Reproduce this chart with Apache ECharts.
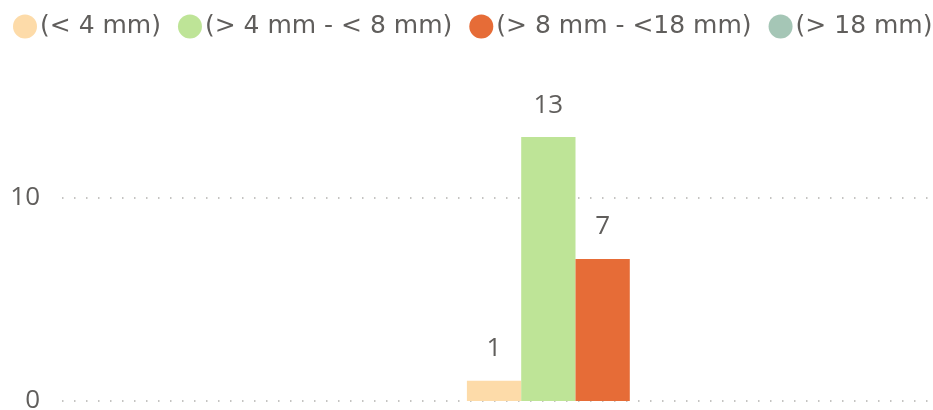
<!DOCTYPE html>
<html>
<head>
<meta charset="utf-8">
<script src="https://cdn.jsdelivr.net/npm/echarts@6/dist/echarts.min.js"></script>
<style>html,body{margin:0;padding:0;background:#fff}#c{width:933px;height:410px}</style>
</head>
<body>
<div id="c"></div>
<script>
const categories = ['Total'];
const seriesNames = ['(< 4 mm)', '(> 4 mm - < 8 mm)', '(> 8 mm - <18 mm)', '(> 18 mm)'];
const valuesLt4 = [1];
const values4to8 = [13];
const values8to18 = [7];
const valuesGt18 = [null];
const colors = ['#FDDBA9', '#BEE497', '#E66C37', '#A5C6B6'];
const yTicks = [0, 10, 20];

const FONT = '"Open Sans", "Noto Sans", sans-serif';
const LEGEND_FONT = '"DejaVu Sans", sans-serif';
const allValues = [valuesLt4, values4to8, values8to18, valuesGt18];

const chart = echarts.init(document.getElementById('c'));
chart.setOption({
  animation: false,
  color: colors,
  legend: {
    left: 8, top: 9, width: 1000,
    icon: 'circle', itemWidth: 24, itemHeight: 24, itemGap: 17,
    textStyle: { fontFamily: LEGEND_FONT, fontSize: 25, color: '#605E5C', padding: [0, 0, 0, -2] },
    data: seriesNames
  },
  grid: { left: 62, right: -156, top: -5, bottom: 9, outerBoundsMode: 'none', containLabel: false },
  xAxis: {
    type: 'category', data: categories,
    axisLine: { show: false }, axisTick: { show: false }, axisLabel: { show: false }
  },
  yAxis: {
    type: 'value', min: yTicks[0], max: yTicks[yTicks.length - 1], interval: 10,
    axisLine: { show: false }, axisTick: { show: false },
    axisLabel: { showMaxLabel: false, margin: 22, fontFamily: FONT, fontSize: 26, color: '#605E5C' },
    splitLine: { lineStyle: { color: '#B3B1AF', width: 1.5, type: [1.5, 10.5] } }
  },
  series: seriesNames.map((n, i) => ({
    name: n, type: 'bar', data: allValues[i],
    barWidth: 54.3, barGap: '0%',
    itemStyle: { color: colors[i] },
    label: { show: true, position: 'top', distance: 19, fontFamily: FONT, fontSize: 26, color: '#605E5C' }
  }))
});
</script>
</body>
</html>
